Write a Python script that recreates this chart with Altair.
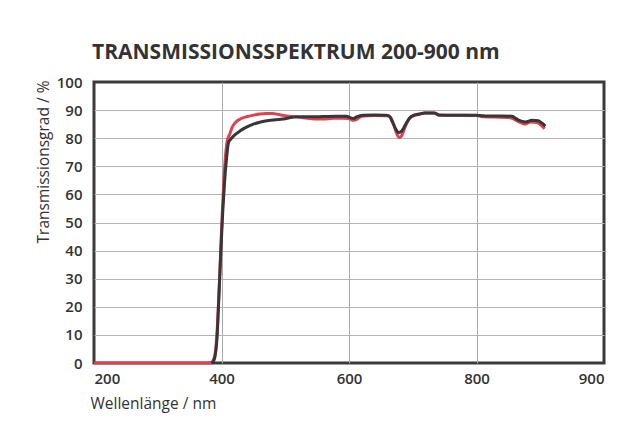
import pandas as pd
import altair as alt

# spectrum (wavelength in nm, transmission in %)
red_nm = [200, 380, 385, 388, 391, 394, 397, 400, 403, 406, 409, 413, 417, 422,
          430, 440, 450, 460, 470, 480, 490, 500, 510, 520, 535, 550, 560, 575,
          590, 600, 605, 610, 620, 640, 660, 665, 670, 675, 679, 683, 688, 695,
          702, 712, 720, 735, 741, 760, 780, 800, 810, 830, 850, 857, 865, 876,
          885, 895, 902, 907]
red_pct = [0, 0, 0.3, 1.5, 5, 15, 30, 47, 62, 73, 79, 81.5, 84, 85.6,
           86.9, 87.7, 88.2, 88.6, 88.8, 88.8, 88.4, 88, 87.7, 87.5, 87.1, 86.8, 86.8, 87.1,
           87.1, 87, 86.4, 86.5, 87.8, 88.1, 88, 87.5, 85, 81.5, 80.2, 81, 84, 87,
           88, 88.6, 89, 89, 88.2, 88.2, 88.2, 88.1, 87.6, 87.5, 87.4, 87, 86, 85,
           85.8, 85.6, 84.5, 83.4]

black_nm = [384, 387, 390, 393, 396, 399, 402, 405, 408, 411, 414, 420, 429, 440,
            450, 460, 471, 485, 496, 505, 517, 540, 560, 580, 596, 603, 607, 612,
            622, 640, 658, 663, 668, 673, 678, 683, 689, 695, 702, 710, 718, 733,
            741, 760, 780, 800, 809, 816, 840, 856, 860, 866, 877, 887, 897, 903, 908]
black_pct = [0, 0.5, 2.5, 9, 24, 40, 54, 65, 73, 78.5, 79.5, 81, 82.6, 84,
             85, 85.7, 86.2, 86.6, 86.8, 87.2, 87.6, 87.6, 87.7, 87.8, 87.8, 87.2, 87, 87.6,
             88.2, 88.3, 88.2, 87.9, 85.8, 83.4, 82, 82.6, 85, 87.2, 88.2, 88.6, 89, 89,
             88.3, 88.2, 88.2, 88.2, 88, 87.9, 87.9, 87.8, 87.3, 86.4, 85.8, 86.4, 86.2, 85.3, 84.3]

x_ticks = [200, 400, 600, 800, 1000]
y_ticks = list(range(0, 101, 10))

FONT = "Open Sans"
TEXT = "#333333"

red = pd.DataFrame({"nm": red_nm, "pct": red_pct})
black = pd.DataFrame({"nm": black_nm, "pct": black_pct})

# no grid line on the frame edges, so the thick border stays dark
x_grid = alt.condition("datum.value == 200 || datum.value == 1000",
                       alt.value("transparent"), alt.value("#a8a8a8"))
y_grid = alt.condition("datum.value == 0 || datum.value == 100",
                       alt.value("transparent"), alt.value("#b4b4b4"))

x = alt.X("nm:Q",
          scale=alt.Scale(domain=[200, 1000], nice=False, zero=False),
          axis=alt.Axis(values=x_ticks,
                        labelExpr="datum.value == 1000 ? '900' : datum.label",
                        title="Wellenlänge / nm", titleFont=FONT, titleFontSize=15.5,
                        titleFontWeight="normal", titleColor=TEXT,
                        titleAnchor="start", titleAlign="left", titleBaseline="alphabetic",
                        titleX=-4, titleY=45,
                        labelFont=FONT, labelFontSize=15, labelFontWeight=600,
                        labelColor=TEXT, labelFlush=True, labelPadding=8,
                        domain=False, ticks=False, grid=True,
                        gridColor=x_grid, gridWidth=1))
y = alt.Y("pct:Q",
          scale=alt.Scale(domain=[0, 100], nice=False),
          axis=alt.Axis(values=y_ticks,
                        title="Transmissionsgrad / %", titleFont=FONT, titleFontSize=15.5,
                        titleFontWeight="normal", titleColor=TEXT,
                        titleAngle=-90, titleAlign="right", titleBaseline="middle",
                        titleX=-51, titleY=-2,
                        labelFont=FONT, labelFontSize=15, labelFontWeight=600,
                        labelColor=TEXT, labelPadding=12,
                        domain=False, ticks=False, grid=True,
                        gridColor=y_grid, gridWidth=1))

red_line = alt.Chart(red).mark_line(color="#dc4451", strokeWidth=3,
                                    interpolate="monotone").encode(x=x, y=y)
black_line = alt.Chart(black).mark_line(color="#3a3536", strokeWidth=3,
                                        interpolate="monotone").encode(x=x, y=y)

chart = alt.layer(red_line, black_line).properties(
    width=510,
    height=281,
    autosize=alt.AutoSizeParams(type="none"),
    padding={"left": 86, "top": 74, "right": 32, "bottom": 59},
    title=alt.TitleParams("TRANSMISSIONSSPEKTRUM 200-900 nm", anchor="start",
                          frame="group", font=FONT, fontSize=21, fontWeight="bold",
                          color=TEXT, offset=12, dx=-2),
).configure(
    background="white"
).configure_view(
    stroke="#3a3a3a", strokeWidth=3
)

chart.save("out.html", embed_options={"renderer": "svg", "actions": False})
